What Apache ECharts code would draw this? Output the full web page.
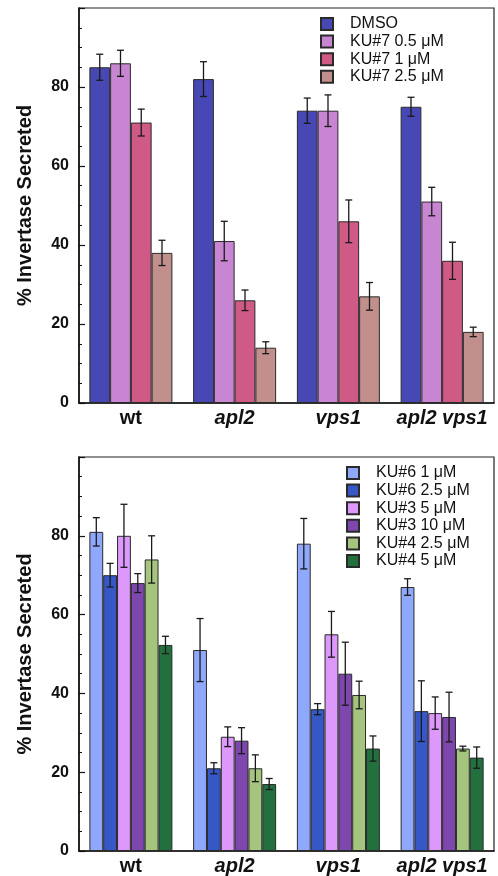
<!DOCTYPE html>
<html>
<head>
<meta charset="utf-8">
<script src="https://cdn.jsdelivr.net/npm/echarts@6/dist/echarts.min.js"></script>
<style>
  html, body { margin: 0; padding: 0; background: #fff; }
  #chart { width: 498px; height: 876px; }
</style>
</head>
<body>
<div id="chart"></div>
<script>
// strains on the x axis
const groups = ["wt", "apl2", "vps1", "apl2 vps1"];

// top panel: KU#7 series
const topNames = ["DMSO", "KU#7 0.5 μM", "KU#7 1 μM", "KU#7 2.5 μM"];
const topColors = ["#4848b4", "#c886d2", "#cf5a85", "#c1908c"];
const dmso = [85, 82, 74, 75];
const dmsoErr = [3.3, 4.4, 3.2, 2.4];
const ku7_05 = [86, 41, 74, 51];
const ku7_05Err = [3.3, 5, 4, 3.6];
const ku7_1 = [71, 26, 46, 36];
const ku7_1Err = [3.4, 2.6, 5.4, 4.7];
const ku7_25 = [38, 14, 27, 18];
const ku7_25Err = [3.2, 1.5, 3.5, 1.2];

// bottom panel: KU#6 / KU#3 / KU#4 series
const botNames = ["KU#6 1 μM", "KU#6 2.5 μM", "KU#3 5 μM", "KU#3 10 μM", "KU#4 2.5 μM", "KU#4 5 μM"];
const botColors = ["#8fa8fc", "#3657c6", "#dc98fa", "#7d47ae", "#a5c57f", "#23703f"];
const ku6_1 = [81, 51, 78, 67];
const ku6_1Err = [3.6, 8, 6.4, 2.1];
const ku6_25 = [70, 21, 36, 35.5];
const ku6_25Err = [3, 1.4, 1.4, 7.7];
const ku3_5 = [80, 29, 55, 35];
const ku3_5Err = [8, 2.5, 5.8, 4.1];
const ku3_10 = [68, 28, 45, 34];
const ku3_10Err = [2.4, 3.3, 8, 6.3];
const ku4_25 = [74, 21, 39.6, 26];
const ku4_25Err = [6, 3.4, 3.5, 0.6];
const ku4_5 = [52.3, 17, 26, 23.7];
const ku4_5Err = [2.2, 1.4, 3.2, 2.7];

const yTicks = [0, 20, 40, 60, 80];

const topValues = [dmso, ku7_05, ku7_1, ku7_25];
const topErrors = [dmsoErr, ku7_05Err, ku7_1Err, ku7_25Err];
const botValues = [ku6_1, ku6_25, ku3_5, ku3_10, ku4_25, ku4_5];
const botErrors = [ku6_1Err, ku6_25Err, ku3_5Err, ku3_10Err, ku4_25Err, ku4_5Err];

const chart = echarts.init(document.getElementById("chart"));
const FONT = "Liberation Sans, Arial, sans-serif";
const GAP = 0.2; // barCategoryGap

function xAxisFor(gridIndex) {
  return {
    type: "category",
    gridIndex: gridIndex,
    data: groups,
    axisLine: { lineStyle: { color: "#111", width: 1.6 } },
    axisTick: { show: false },
    axisLabel: {
      margin: 5,
      formatter: (v) => (v === "wt" ? "{n|" + v + "}" : "{i|" + v + "}"),
      rich: {
        n: { fontFamily: FONT, fontWeight: "bold", fontSize: 20, color: "#111" },
        i: { fontFamily: FONT, fontWeight: "bold", fontStyle: "italic", fontSize: 20, color: "#111" },
      },
    },
  };
}

function yAxisFor(gridIndex) {
  return {
    type: "value",
    gridIndex: gridIndex,
    min: 0,
    max: 100,
    interval: 20,
    name: "% Invertase Secreted",
    nameLocation: "middle",
    nameGap: 44,
    nameTextStyle: { fontFamily: FONT, fontWeight: "bold", fontSize: 20, color: "#111" },
    axisLine: { show: true, lineStyle: { color: "#111", width: 1.6 } },
    axisTick: { show: true, inside: true, length: 6, lineStyle: { color: "#111", width: 1.2 } },
    minorTick: { show: true, splitNumber: 4, length: 3, lineStyle: { color: "#111", width: 1 } },
    splitLine: { show: false },
    axisLabel: {
      margin: 10,
      fontFamily: FONT,
      fontWeight: "bold",
      fontSize: 16,
      color: "#111",
      formatter: (v) => (yTicks.indexOf(v) >= 0 ? String(v) : ""),
    },
  };
}

function barSeries(names, colors, values, axisIndex) {
  return names.map((name, i) => ({
    name: name,
    type: "bar",
    xAxisIndex: axisIndex,
    yAxisIndex: axisIndex,
    data: values[i],
    barGap: "0%",
    barCategoryGap: GAP * 100 + "%",
    itemStyle: { color: colors[i], borderColor: "#2a2a2a", borderWidth: 1 },
    emphasis: { disabled: true },
  }));
}

// error bars drawn over the bars through the same axes
function errorSeries(values, errors, axisIndex) {
  const n = values.length;
  const data = [];
  values.forEach((vals, s) => {
    vals.forEach((v, c) => data.push([c, s, v, errors[s][c]]));
  });
  return {
    type: "custom",
    xAxisIndex: axisIndex,
    yAxisIndex: axisIndex,
    encode: { x: 0, y: 2 },
    z: 5,
    silent: true,
    data: data,
    renderItem: function (params, api) {
      const c = api.value(0);
      const s = api.value(1);
      const v = api.value(2);
      const e = api.value(3);
      const band = api.size([1, 0])[0];
      const groupW = band * (1 - GAP);
      const barW = groupW / n;
      const center = api.coord([c, v])[0];
      const x = center - groupW / 2 + barW * (s + 0.5);
      const yHi = api.coord([c, v + e])[1];
      const yLo = api.coord([c, v - e])[1];
      const cap = 3.5;
      const style = { stroke: "#1a1a1a", lineWidth: 1.3 };
      return {
        type: "group",
        children: [
          { type: "line", shape: { x1: x, y1: yHi, x2: x, y2: yLo }, style: style },
          { type: "line", shape: { x1: x - cap, y1: yHi, x2: x + cap, y2: yHi }, style: style },
          { type: "line", shape: { x1: x - cap, y1: yLo, x2: x + cap, y2: yLo }, style: style },
        ],
      };
    },
  };
}

function legendFor(names, left, top) {
  return {
    data: names.map((name) => ({ name: name, icon: "rect" })),
    orient: "vertical",
    left: left,
    top: top,
    padding: 0,
    itemWidth: 12,
    itemHeight: 12,
    itemGap: 1.6,
    selectedMode: false,
    textStyle: { fontFamily: FONT, fontSize: 16, color: "#111", lineHeight: 16, padding: [0, 0, 0, 12] },
  };
}

const option = {
  animation: false,
  backgroundColor: "#fff",
  grid: [
    { left: 79, right: 4, top: 8, bottom: 473, show: true, borderColor: "#222", borderWidth: 1.2 },
    { left: 79, right: 4, top: 457, bottom: 23, show: true, borderColor: "#222", borderWidth: 1.2 },
  ],
  legend: [legendFor(topNames, 320, 16), legendFor(botNames, 346, 465)],
  xAxis: [xAxisFor(0), xAxisFor(1)],
  yAxis: [yAxisFor(0), yAxisFor(1)],
  series: [
    ...barSeries(topNames, topColors, topValues, 0),
    errorSeries(topValues, topErrors, 0),
    ...barSeries(botNames, botColors, botValues, 1),
    errorSeries(botValues, botErrors, 1),
  ],
};

chart.setOption(option);
</script>
</body>
</html>
